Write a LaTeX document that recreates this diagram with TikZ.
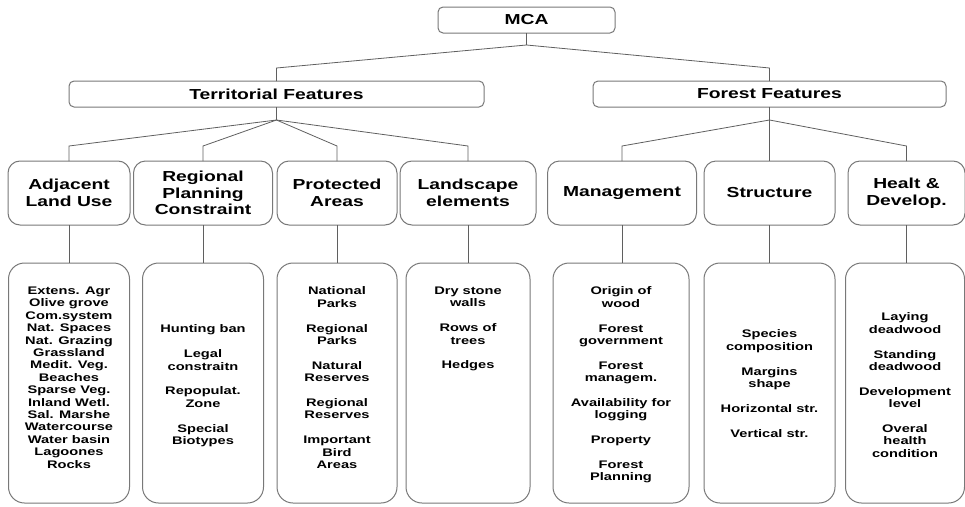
\documentclass[tikz,border=0pt]{standalone}
\usepackage{fontspec}
\setmainfont{Liberation Sans}[FakeStretch=1.33]
\definecolor{boxgray}{RGB}{120,120,120}
\definecolor{linegray}{RGB}{95,95,95}
\newcommand\hdrfnt{\fontsize{14.5}{16.5}\selectfont\bfseries}
\newcommand\itmfnt{\fontsize{11}{12.4}\selectfont\bfseries}
\begin{document}
\begin{tikzpicture}[x=1pt,y=-1pt,
  every node/.style={inner sep=0pt, outer sep=0pt},
  lnk/.style={draw=linegray, line width=0.8pt},
  topbox/.style={draw=boxgray, line width=1pt, fill=white, rounded corners=5pt, minimum height=26pt, font=\hdrfnt},
  catbox/.style={draw=boxgray, line width=1pt, fill=white, rounded corners=12pt, minimum height=64pt, align=center, font=\hdrfnt},
  lstbox/.style={draw=boxgray, line width=1pt, fill=white, rounded corners=16pt, minimum height=240pt},
  itm/.style={align=center, font=\itmfnt, anchor=north, text=black}]
\useasboundingbox (0,0) rectangle (965,506);

% level 0/1
\node[topbox, minimum width=177pt] (mca) at (526.5,20) {MCA};
\node[topbox, minimum width=415pt] (terr) at (276.5,94) {Territorial Features};
\node[topbox, minimum width=353pt] (forest) at (769.5,94) {Forest Features};

% level 2
\node[catbox, minimum width=122pt] (adj) at (69,193) {Adjacent\\Land Use};
\node[catbox, minimum width=139pt] (reg) at (203,193) {Regional\\Planning\\Constraint};
\node[catbox, minimum width=120pt] (prot) at (337,193) {Protected\\Areas};
\node[catbox, minimum width=136pt] (land) at (468,193) {Landscape\\elements};
\node[catbox, minimum width=149pt] (mgmt) at (622,193) {Management};
\node[catbox, minimum width=131pt] (struc) at (769.5,193) {Structure};
\node[catbox, minimum width=117pt] (heal) at (906.5,193) {Healt \&\\Develop.};

% level 3 boxes
\node[lstbox, minimum width=121pt] (adjl) at (69,383) {};
\node[lstbox, minimum width=121pt] (regl) at (203,383) {};
\node[lstbox, minimum width=120pt] (protl) at (337,383) {};
\node[lstbox, minimum width=124pt] (landl) at (468,383) {};
\node[lstbox, minimum width=136pt] (mgmtl) at (621,383) {};
\node[lstbox, minimum width=131pt] (strucl) at (769.5,383) {};
\node[lstbox, minimum width=119pt] (heall) at (905,383) {};

% level 3 texts
\node[itm] (adjt) at (69,287) {Extens. Agr\\Olive grove\\Com.system\\Nat. Spaces\\Nat. Grazing\\Grassland\\Medit. Veg.\\Beaches\\Sparse Veg.\\Inland Wetl.\\Sal. Marshe\\Watercourse\\Water basin\\Lagoones\\Rocks};
\node[itm] (regt) at (203,325) {Hunting ban\\[12.4pt]Legal\\constraitn\\[12.4pt]Repopulat.\\Zone\\[12.4pt]Special\\Biotypes};
\node[itm] (prott) at (337,287) {National\\Parks\\[12.4pt]Regional\\Parks\\[12.4pt]Natural\\Reserves\\[12.4pt]Regional\\Reserves\\[12.4pt]Important\\Bird\\Areas};
\node[itm] (landt) at (468,287) {Dry stone\\walls\\[12.4pt]Rows of\\trees\\[12.4pt]Hedges};
\node[itm] (mgmtt) at (621,287) {Origin of\\wood\\[12.4pt]Forest\\government\\[12.4pt]Forest\\managem.\\[12.4pt]Availability for\\logging\\[12.4pt]Property\\[12.4pt]Forest\\Planning};
\node[itm] (struct) at (769.5,330) {Species\\composition\\[12.4pt]Margins\\shape\\[12.4pt]Horizontal str.\\[12.4pt]Vertical str.};
\node[itm] (healt) at (905,313) {Laying\\deadwood\\[12.4pt]Standing\\deadwood\\[12.4pt]Development\\level\\[12.4pt]Overal\\health\\condition};

% connectors
\coordinate (mj) at ([yshift=-12pt]mca.south);
\draw[lnk] (mca.south) -- (mj);
\draw[lnk] (mj) -- ([yshift=13pt]terr.north) -- (terr.north);
\draw[lnk] (mj) -- ([yshift=13pt]forest.north) -- (forest.north);
\coordinate (tj) at ([yshift=-13pt]terr.south);
\draw[lnk] (terr.south) -- (tj);
\foreach \n in {adj,reg,prot,land}
  \draw[lnk] (tj) -- ([yshift=15pt]\n.north) -- (\n.north);
\coordinate (fj) at ([yshift=-13pt]forest.south);
\draw[lnk] (forest.south) -- (fj);
\foreach \n in {mgmt,struc,heal}
  \draw[lnk] (fj) -- ([yshift=15pt]\n.north) -- (\n.north);
\foreach \a/\b in {adj/adjl,reg/regl,prot/protl,land/landl,mgmt/mgmtl,struc/strucl,heal/heall}
  \draw[lnk] (\a.south) -- (\a.south |- \b.north);
\end{tikzpicture}
\end{document}
